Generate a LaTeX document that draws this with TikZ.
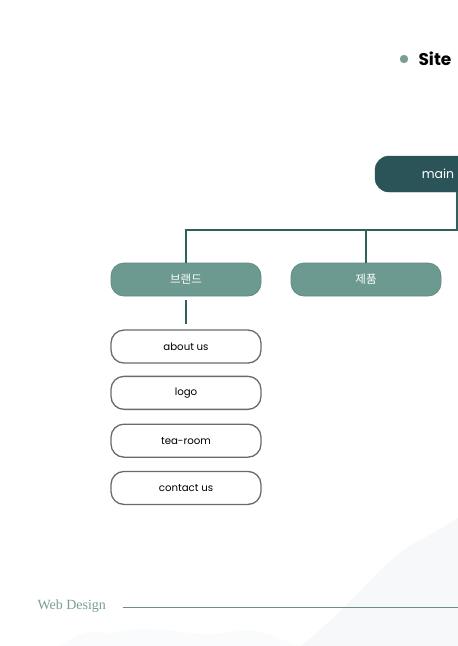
\documentclass[tikz,border=0pt]{standalone}
\usepackage{fontspec}
\setmainfont{Poppins}
\newfontfamily\kofont{Noto Sans CJK KR}
\newfontfamily\footfont{Liberation Serif}
\usetikzlibrary{positioning}

\definecolor{maindark}{HTML}{2B5459}
\definecolor{catfill}{HTML}{6C9A91}
\definecolor{catline}{HTML}{5E8C83}
\definecolor{linkcol}{HTML}{2F625C}
\definecolor{subline}{HTML}{6A6A6A}
\definecolor{footcol}{HTML}{7A9E94}
\definecolor{haze}{HTML}{F7F8FA}

\tikzset{
  mainbox/.style={draw=maindark, fill=maindark, rounded corners=14pt, minimum width=126pt, minimum height=36pt, text=white, font=\fontsize{12.5}{14}\selectfont},
  catbox/.style={draw=catline, fill=catfill, line width=0.8pt, rounded corners=13pt, minimum width=150pt, minimum height=33pt, text=white, font=\kofont\fontsize{11.5}{13}\selectfont},
  subbox/.style={draw=subline, fill=white, line width=1.3pt, rounded corners=13pt, minimum width=150pt, minimum height=33pt, font=\fontsize{10.2}{12}\selectfont},
  link/.style={draw=linkcol, line width=2pt}
}

\begin{document}
\begin{tikzpicture}[x=1pt, y=-1pt]
  \useasboundingbox (0,0) rectangle (458,646);
  \clip (0,0) rectangle (458,646);

  % Faint hills
  \fill[haze] (300,646) .. controls (360,600) and (380,560) .. (420,540)
              .. controls (440,530) and (450,522) .. (458,518) -- (458,646) -- cycle;
  \fill[haze!60] (60,646) .. controls (80,632) and (95,628) .. (110,634)
                 .. controls (150,620) and (190,640) .. (230,632)
                 .. controls (260,626) and (280,640) .. (300,646) -- cycle;

  % Title
  \fill[footcol] (404,59) circle (4.2pt);
  \node[anchor=west, font=\bfseries\fontsize{17}{20}\selectfont] (title) at (415,59) {Site};

  % Boxes
  \node[mainbox] (main) at (438,174) {main};
  \node[catbox] (brand) at (186,279.5) {브랜드};
  \node[catbox] (product) at (366,279.5) {제품};
  \node[subbox, below=33pt of brand] (about) {about us};
  \node[subbox, below=12pt of about] (logo) {logo};
  \node[subbox, below=13.5pt of logo] (tearoom) {tea-room};
  \node[subbox, below=13pt of tearoom] (contact) {contact us};

  % Connectors
  \coordinate (hub) at (457,230);
  \draw[link] (main.south -| hub) -- (hub) -- (brand.north |- hub) -- (brand.north);
  \draw[link] (product.north |- hub) -- (product.north);
  \draw[link, shorten <=4pt, shorten >=5pt] (brand) -- (about);

  % Footer
  \node[anchor=west, text=footcol, font=\footfont\fontsize{14}{16}\selectfont] (web) at (34,606) {Web Design};
  \coordinate (footend) at (458,607);
  \draw[footcol!90!black, line width=1pt] (web.east |- footend) ++(13,0) -- (footend);
\end{tikzpicture}
\end{document}
